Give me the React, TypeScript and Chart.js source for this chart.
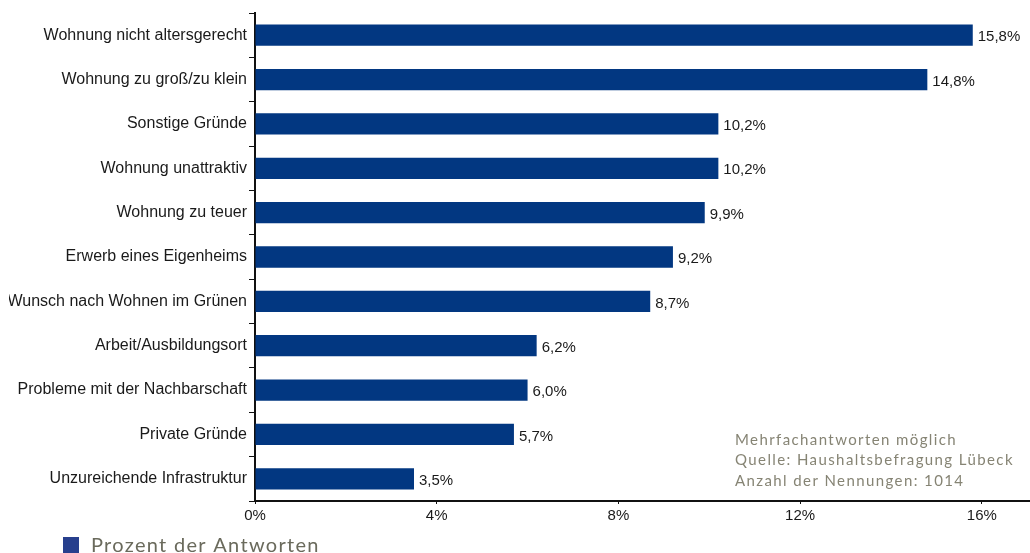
import React, { useEffect, useRef } from "react";
import { Chart, registerables } from "chart.js";

Chart.register(...registerables);

const categories = [
  "Wohnung nicht altersgerecht",
  "Wohnung zu groß/zu klein",
  "Sonstige Gründe",
  "Wohnung unattraktiv",
  "Wohnung zu teuer",
  "Erwerb eines Eigenheims",
  "Wunsch nach Wohnen im Grünen",
  "Arbeit/Ausbildungsort",
  "Probleme mit der Nachbarschaft",
  "Private Gründe",
  "Unzureichende Infrastruktur",
];
const values = [15.8, 14.8, 10.2, 10.2, 9.9, 9.2, 8.7, 6.2, 6.0, 5.7, 3.5];
const xTicks = [0, 4, 8, 12, 16];
const seriesLabel = "Prozent der Antworten";
const noteLines = [
  "Mehrfachantworten möglich",
  "Quelle: Haushaltsbefragung Lübeck",
  "Anzahl der Nennungen: 1014",
];

const BAR_COLOR = "#023781";
const LEGEND_COLOR = "#273f8d";
const ARIAL = "'Liberation Sans', Arial, sans-serif";
const fmt = (v: number) => v.toFixed(1).replace(".", ",") + "%";

export default function App() {
  const ref = useRef<HTMLCanvasElement | null>(null);
  useEffect(() => {
    if (!ref.current) return;
    const extras = {
      id: "extras",
      afterDraw(chart: any) {
        const ctx = chart.ctx;
        const meta = chart.getDatasetMeta(0);
        ctx.save();
        // left clipping of the label column, as in the reference
        ctx.fillStyle = "#ffffff";
        ctx.fillRect(0, 0, 9, 500);
        ctx.font = "15px " + ARIAL;
        ctx.fillStyle = "#1a1a1a";
        ctx.textBaseline = "middle";
        ctx.textAlign = "left";
        meta.data.forEach((el: any, i: number) => {
          ctx.fillText(fmt(values[i]), el.x + 5, el.y + 2);
        });
        // note
        ctx.font = "15px Lato, sans-serif";
        (ctx as any).letterSpacing = "1.4px";
        ctx.fillStyle = "#868474";
        noteLines.forEach((t, i) => {
          ctx.fillText(t, 735, 440 + i * 20.5);
        });
        // legend
        ctx.fillStyle = LEGEND_COLOR;
        ctx.fillRect(63, 537, 16, 16);
        ctx.font = "20px Lato, sans-serif";
        (ctx as any).letterSpacing = "1.3px";
        ctx.fillStyle = "#6a6a5c";
        ctx.fillText(seriesLabel, 91, 546);
        ctx.restore();
      },
    };
    const chart = new Chart(ref.current, {
      type: "bar",
      data: {
        labels: categories,
        datasets: [
          {
            label: seriesLabel,
            data: values,
            backgroundColor: BAR_COLOR,
            categoryPercentage: 1,
            barPercentage: 0.48,
          },
        ],
      },
      options: {
        indexAxis: "y",
        animation: false,
        responsive: false,
        maintainAspectRatio: false,
        layout: { padding: { top: 13, right: 0, left: 0, bottom: 0 } },
        plugins: {
          legend: { display: false },
          tooltip: { enabled: false },
        },
        scales: {
          x: {
            min: 0,
            max: 17.06,
            afterBuildTicks: (s: any) => {
              s.ticks = xTicks.map((v) => ({ value: v }));
            },
            afterFit: (s: any) => {
              s.height = 52;
            },
            border: { color: "#111", width: 2 },
            grid: { drawOnChartArea: false, drawTicks: true, tickLength: 3, color: "#111" },
            ticks: {
              color: "#1a1a1a",
              padding: 3,
              font: { family: ARIAL, size: 15 },
              callback: (v: any) => v + "%",
            },
          },
          y: {
            afterFit: (s: any) => {
              s.width = 255;
            },
            border: { color: "#111", width: 2 },
            grid: { drawOnChartArea: false, drawTicks: true, tickLength: 6, color: "#111", offset: true },
            ticks: {
              color: "#1a1a1a",
              padding: 2,
              font: { family: ARIAL, size: 16 },
            },
          },
        },
      },
      plugins: [extras],
    });
    return () => chart.destroy();
  }, []);
  return (
    <div style={{ position: "fixed", left: 0, top: 0, width: 1030, height: 553, background: "#fff" }}>
      <canvas ref={ref} width={1030} height={553} style={{ width: 1030, height: 553 }} />
    </div>
  );
}
